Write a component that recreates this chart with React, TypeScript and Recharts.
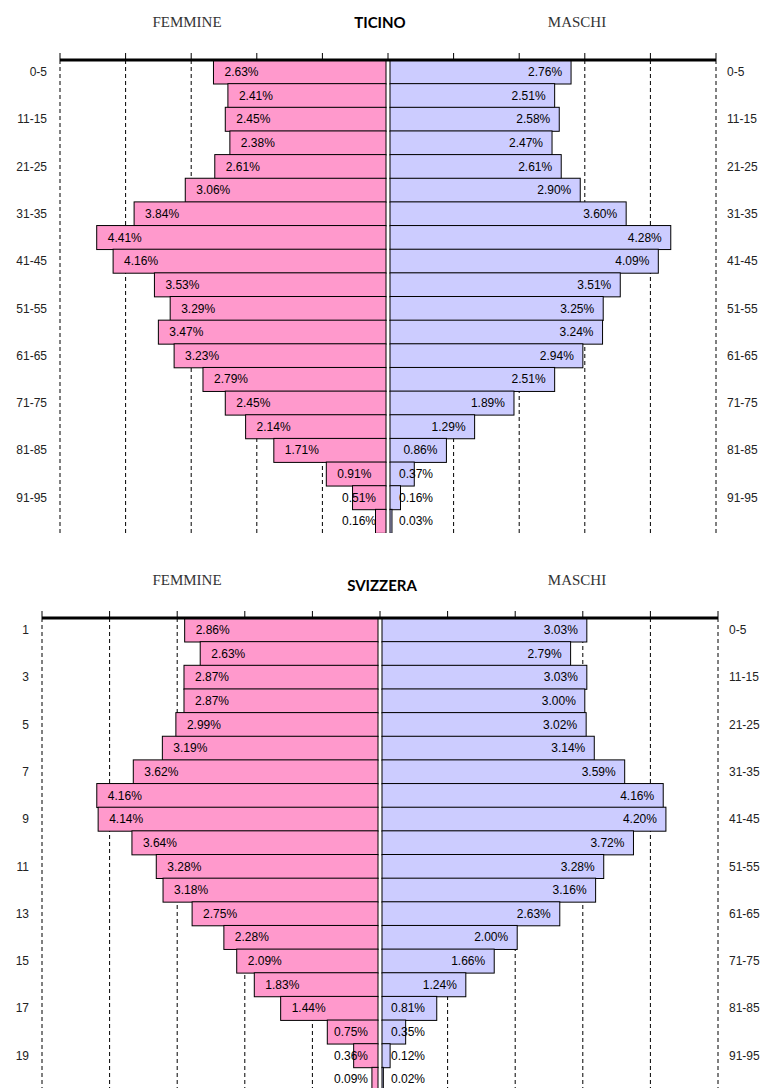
import React from "react";
import { BarChart, Bar, XAxis, YAxis, CartesianGrid, LabelList } from "recharts";

// fasce d'età (una barra per fascia, dall'alto in basso)
const ageGroups = [
  "0-5", "6-10", "11-15", "16-20", "21-25", "26-30", "31-35", "36-40", "41-45", "46-50",
  "51-55", "56-60", "61-65", "66-70", "71-75", "76-80", "81-85", "86-90", "91-95", "96+",
];
// numeri di riga usati come etichette a sinistra nel grafico Svizzera
const rowNumbers = [
  "1", "2", "3", "4", "5", "6", "7", "8", "9", "10",
  "11", "12", "13", "14", "15", "16", "17", "18", "19", "20",
];

const ticinoFemmine = [2.63, 2.41, 2.45, 2.38, 2.61, 3.06, 3.84, 4.41, 4.16, 3.53, 3.29, 3.47, 3.23, 2.79, 2.45, 2.14, 1.71, 0.91, 0.51, 0.16];
const ticinoMaschi = [2.76, 2.51, 2.58, 2.47, 2.61, 2.9, 3.6, 4.28, 4.09, 3.51, 3.25, 3.24, 2.94, 2.51, 1.89, 1.29, 0.86, 0.37, 0.16, 0.03];
const svizzeraFemmine = [2.86, 2.63, 2.87, 2.87, 2.99, 3.19, 3.62, 4.16, 4.14, 3.64, 3.28, 3.18, 2.75, 2.28, 2.09, 1.83, 1.44, 0.75, 0.36, 0.09];
const svizzeraMaschi = [3.03, 2.79, 3.03, 3.0, 3.02, 3.14, 3.59, 4.16, 4.2, 3.72, 3.28, 3.16, 2.63, 2.0, 1.66, 1.24, 0.81, 0.35, 0.12, 0.02];

const percentTicks = [-5, -4, -3, -2, -1, 0, 1, 2, 3, 4, 5];
// griglia tratteggiata: tutte le tacche tranne lo zero (lì ci sono i bordi delle barre)
const gridValues = [-5, -4, -3, -2, -1, 1, 2, 3, 4, 5];

const PINK = "#FF99CC";
const LILAC = "#CCCCFF";
const GAP = 2;
const SANS = "'Liberation Sans', Arial, sans-serif";

function buildRows(fem: number[], mas: number[], leftLabels: string[]) {
  return ageGroups.map((age, i) => ({
    age,
    left: leftLabels[i],
    femmine: -fem[i],
    maschi: mas[i],
  }));
}

function span(x: any, width: any): [number, number] {
  const a = Number(x);
  const w = Number(width);
  return w < 0 ? [a + w, -w] : [a, w];
}

function FemaleBar(props: any) {
  const [x0, w] = span(props.x, props.width);
  return <rect x={x0 - GAP} y={props.y} width={w} height={props.height} fill={PINK} stroke="#000" strokeWidth={1} />;
}

function MaleBar(props: any) {
  const [x0, w] = span(props.x, props.width);
  return <rect x={x0 + GAP} y={props.y} width={w} height={props.height} fill={LILAC} stroke="#000" strokeWidth={1} />;
}

function femaleLabel(props: any) {
  const [x0, w] = span(props.x, props.width);
  const left = x0 - GAP;
  const right = x0 + w - GAP;
  const cy = Number(props.y) + Number(props.height) / 2;
  const fits = left + 11 + 37 < right - 10;
  return (
    <text x={fits ? left + 11 : right - 10} y={cy} textAnchor={fits ? "start" : "end"} dominantBaseline="central" fontSize={12} fontFamily={SANS} fill="#000">
      {Math.abs(Number(props.value)).toFixed(2)}%
    </text>
  );
}

function maleLabel(props: any) {
  const [x0, w] = span(props.x, props.width);
  const left = x0 + GAP;
  const right = x0 + w + GAP;
  const cy = Number(props.y) + Number(props.height) / 2;
  const fits = right - 9 - 37 > left + 9;
  return (
    <text x={fits ? right - 9 : left + 9} y={cy} textAnchor={fits ? "end" : "start"} dominantBaseline="central" fontSize={12} fontFamily={SANS} fill="#000">
      {Number(props.value).toFixed(2)}%
    </text>
  );
}

function Pyramid({ rows, leftWidth, rightWidth, axisHeight }: { rows: any[]; leftWidth: number; rightWidth: number; axisHeight: number }) {
  const tick = { fontSize: 12, fill: "#222", fontFamily: SANS };
  return (
    <BarChart
      width={766}
      height={axisHeight + 473}
      data={rows}
      layout="vertical"
      stackOffset="sign"
      barCategoryGap={0}
      barGap={0}
      margin={{ top: 0, right: 0, bottom: 0, left: 0 }}
    >
      <CartesianGrid horizontal={false} verticalValues={gridValues} stroke="#000" strokeDasharray="4 3" yAxisId="l" />
      <XAxis
        type="number"
        orientation="top"
        domain={[-5, 5]}
        ticks={percentTicks}
        height={axisHeight}
        axisLine={{ stroke: "#000", strokeWidth: 3 }}
        tickLine={{ stroke: "#000" }}
        tickSize={7}
        tickFormatter={() => ""}
        allowDataOverflow
      />
      <YAxis yAxisId="l" type="category" dataKey="left" width={leftWidth} interval={1} tickLine={false} axisLine={false} tickMargin={7} tick={tick} />
      <YAxis yAxisId="r" type="category" dataKey="age" orientation="right" width={rightWidth} interval={1} tickLine={false} axisLine={false} tickMargin={5} tick={tick} />
      <Bar dataKey="femmine" stackId="p" yAxisId="l" shape={FemaleBar} isAnimationActive={false}>
        <LabelList dataKey="femmine" content={femaleLabel} />
      </Bar>
      <Bar dataKey="maschi" stackId="p" yAxisId="l" shape={MaleBar} isAnimationActive={false}>
        <LabelList dataKey="maschi" content={maleLabel} />
      </Bar>
    </BarChart>
  );
}

const serifTitle: React.CSSProperties = {
  position: "absolute",
  fontFamily: "'Liberation Serif', 'Times New Roman', serif",
  fontSize: 15,
  color: "#333",
  transform: "translateX(-50%)",
  lineHeight: "15px",
};
const boldTitle: React.CSSProperties = {
  position: "absolute",
  fontFamily: "Lato, 'Open Sans', sans-serif",
  fontWeight: 700,
  fontSize: 15,
  color: "#000",
  transform: "translateX(-50%)",
  lineHeight: "15px",
};

export default function App() {
  const ticinoRows = buildRows(ticinoFemmine, ticinoMaschi, ageGroups);
  const svizzeraRows = buildRows(svizzeraFemmine, svizzeraMaschi, rowNumbers);
  return (
    <div style={{ position: "absolute", left: 0, top: 0, width: 766, height: 1088, overflow: "hidden", background: "#fff", fontFamily: SANS }}>
      <div style={{ ...serifTitle, left: 187, top: 15 }}>FEMMINE</div>
      <div style={{ ...boldTitle, left: 380, top: 15 }}>TICINO</div>
      <div style={{ ...serifTitle, left: 577, top: 15 }}>MASCHI</div>
      <div style={{ position: "absolute", left: 0, top: 0 }}>
        <Pyramid rows={ticinoRows} leftWidth={60} rightWidth={50} axisHeight={60} />
      </div>

      <div style={{ ...serifTitle, left: 187, top: 573 }}>FEMMINE</div>
      <div style={{ ...boldTitle, left: 382, top: 578 }}>SVIZZERA</div>
      <div style={{ ...serifTitle, left: 577, top: 573 }}>MASCHI</div>
      <div style={{ position: "absolute", left: 0, top: 560 }}>
        <Pyramid rows={svizzeraRows} leftWidth={42} rightWidth={48} axisHeight={58} />
      </div>
    </div>
  );
}
